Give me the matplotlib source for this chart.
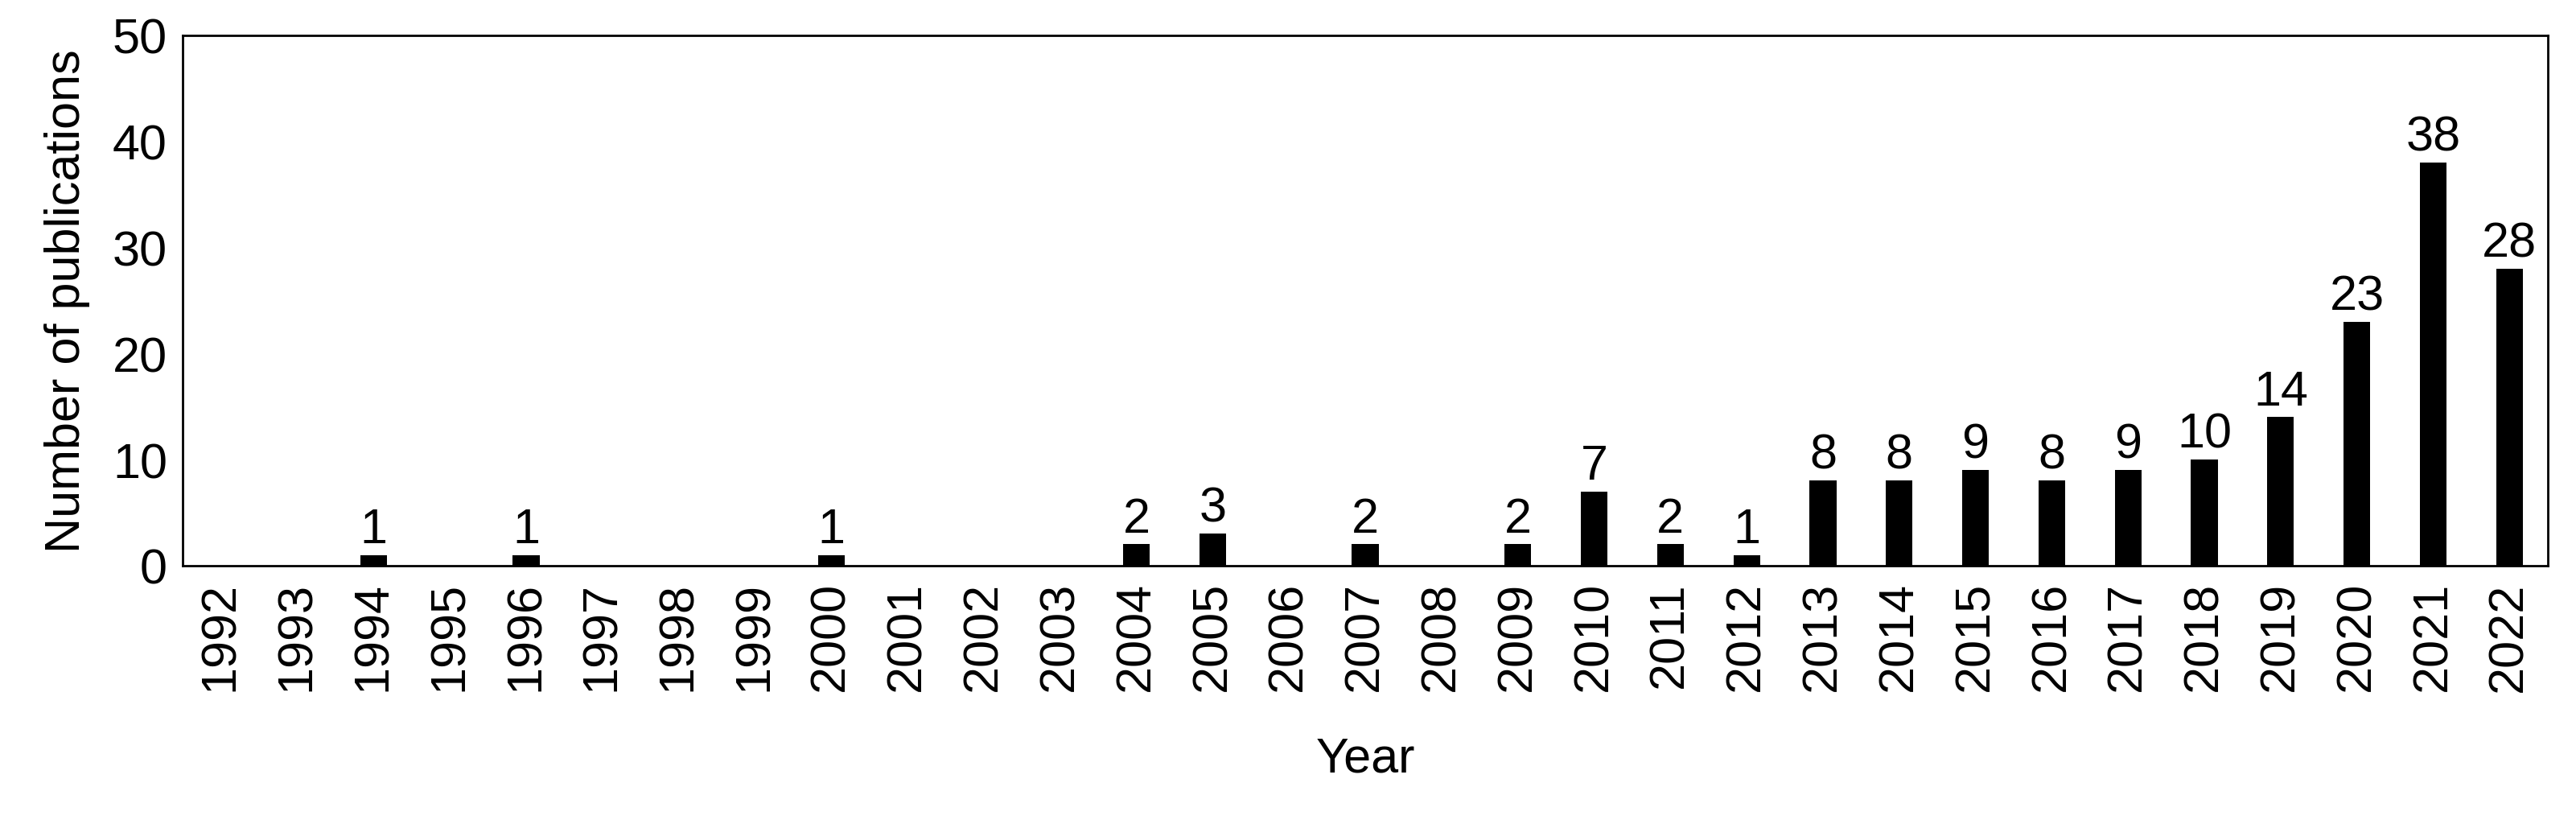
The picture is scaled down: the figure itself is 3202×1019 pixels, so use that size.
import matplotlib
matplotlib.use("Agg")
import matplotlib.pyplot as plt

plt.rcParams['font.family'] = ['Liberation Sans', 'DejaVu Sans']

years = [str(y) for y in range(1992, 2023)]
counts = [0, 0, 1, 0, 1, 0, 0, 0, 1, 0, 0, 0, 2, 3, 0, 2, 0, 2, 7, 2, 1,
          8, 8, 9, 8, 9, 10, 14, 23, 38, 28]

fig = plt.figure(figsize=(32.02, 10.2), dpi=100)
ax = fig.add_axes([0.071, 0.31, 0.918, 0.646])
x = range(len(years))
ax.bar(x, counts, width=0.35, color='black')
for xi, c in zip(x, counts):
    if c > 0:
        ax.text(xi, c + 0.2, str(c), ha='center', va='bottom', fontsize=44)

ax.set_xlim(-0.5, len(years) - 0.5)
ax.set_ylim(0, 50)
ax.set_yticks(range(0, 51, 10))
ax.set_xticks(list(x))
ax.set_xticklabels(years, rotation=90)
ax.tick_params(axis='both', labelsize=44, length=0, pad=14)
ax.set_xlabel('Year', fontsize=44, labelpad=40)
ax.set_ylabel('Number of publications', fontsize=44, labelpad=20)
for s in ax.spines.values():
    s.set_linewidth(2)

fig.savefig('out.png', dpi=100)
